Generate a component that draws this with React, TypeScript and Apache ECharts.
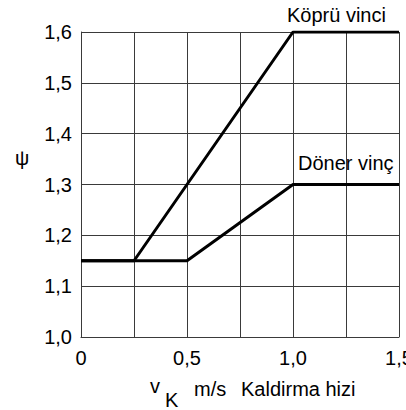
import React, { useEffect, useRef } from "react";
import * as echarts from "echarts";

const kopruX = [0, 0.25, 1.0, 1.5];
const kopruY = [1.15, 1.15, 1.6, 1.6];
const donerX = [0, 0.5, 1.0, 1.5];
const donerY = [1.15, 1.15, 1.3, 1.3];
const seriesNames = ["Köprü vinci", "Döner vinç"];
const yAxisTitle = "ψ";
const xAxisTitleParts = ["v", "K", "m/s", "Kaldirma hizi"];

const FONT = "'Liberation Sans', Arial, sans-serif";

function fmt(v: number): string {
  if (Math.abs(v) < 1e-9) return "0";
  return v.toFixed(1).replace(".", ",");
}

export default function App() {
  const ref = useRef<HTMLDivElement>(null);
  useEffect(() => {
    document.body.style.margin = "0";
    document.body.style.overflow = "hidden";
    document.documentElement.style.overflow = "hidden";
    if (!ref.current) return;
    const chart = echarts.init(ref.current, null, { renderer: "svg" });
    const textStyle = (text: string, size = 20) => ({
      text,
      fill: "#000",
      font: `${size}px ${FONT}`,
      verticalAlign: "middle",
    });
    chart.setOption({
      animation: false,
      backgroundColor: "#fff",
      grid: {
        left: 81,
        right: 7,
        top: 32,
        bottom: 73,
        containLabel: false,
        outerBoundsMode: "none",
      },
      xAxis: {
        type: "value",
        min: 0,
        max: 1.5,
        interval: 0.25,
        axisLine: { show: true, lineStyle: { color: "#3a3a3a", width: 1 } },
        axisTick: { show: false },
        splitLine: { show: true, lineStyle: { color: "#3a3a3a", width: 1 } },
        axisLabel: {
          show: true,
          margin: 11,
          color: "#000",
          fontSize: 20,
          fontFamily: FONT,
          showMinLabel: true,
          showMaxLabel: true,
          hideOverlap: false,
          formatter: (v: number) =>
            Math.abs((v / 0.5) - Math.round(v / 0.5)) < 1e-6 ? fmt(v) : "",
        },
      },
      yAxis: {
        type: "value",
        min: 1.0,
        max: 1.6,
        interval: 0.1,
        axisLine: { show: true, lineStyle: { color: "#3a3a3a", width: 1 } },
        axisTick: { show: false },
        splitLine: { show: true, lineStyle: { color: "#3a3a3a", width: 1 } },
        axisLabel: {
          show: true,
          margin: 9,
          color: "#000",
          fontSize: 20,
          fontFamily: FONT,
          formatter: (v: number) => fmt(v),
        },
      },
      series: [
        {
          name: seriesNames[0],
          type: "line",
          data: kopruX.map((x, i) => [x, kopruY[i]]),
          symbol: "none",
          lineStyle: { color: "#000", width: 3 },
          z: 5,
        },
        {
          name: seriesNames[1],
          type: "line",
          data: donerX.map((x, i) => [x, donerY[i]]),
          symbol: "none",
          lineStyle: { color: "#000", width: 3 },
          z: 5,
        },
      ],
      graphic: [
        { type: "text", left: 287, top: 5, style: { text: seriesNames[0], fill: "#000", font: `20px ${FONT}` } },
        { type: "text", left: 298, top: 153, style: { text: seriesNames[1], fill: "#000", font: `20px ${FONT}` } },
        { type: "text", x: 15, y: 158, style: textStyle(yAxisTitle, 20) },
        { type: "text", x: 150, y: 386, style: textStyle(xAxisTitleParts[0], 20) },
        { type: "text", x: 165, y: 400, style: textStyle(xAxisTitleParts[1], 20) },
        { type: "text", x: 194, y: 389, style: textStyle(xAxisTitleParts[2], 20) },
        { type: "text", x: 241, y: 389, style: textStyle(xAxisTitleParts[3], 20) },
      ],
    });
    return () => chart.dispose();
  }, []);
  return <div ref={ref} style={{ width: 406, height: 410 }} />;
}
